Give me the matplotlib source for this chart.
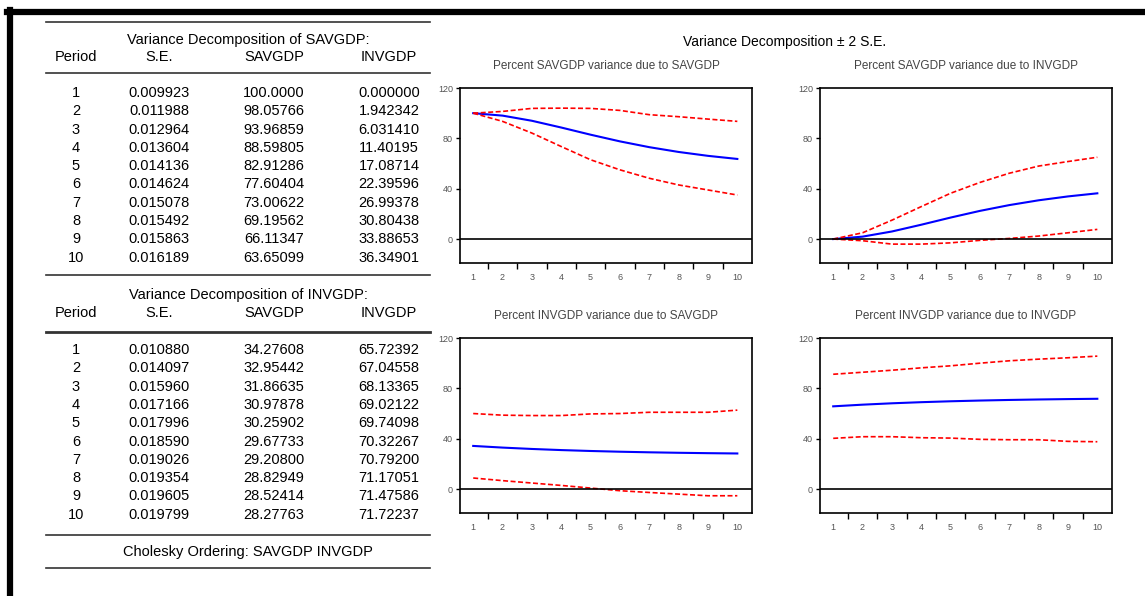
import matplotlib
matplotlib.use("Agg")
import matplotlib.pyplot as plt
from matplotlib.lines import Line2D
import numpy as np

plt.rcParams['font.family'] = ['Liberation Sans', 'DejaVu Sans']

W, H = 1145, 596

periods = list(range(1, 11))

# table values, as printed
se_sav = ["0.009923", "0.011988", "0.012964", "0.013604", "0.014136",
          "0.014624", "0.015078", "0.015492", "0.015863", "0.016189"]
sav_sav = ["100.0000", "98.05766", "93.96859", "88.59805", "82.91286",
           "77.60404", "73.00622", "69.19562", "66.11347", "63.65099"]
sav_inv = ["0.000000", "1.942342", "6.031410", "11.40195", "17.08714",
           "22.39596", "26.99378", "30.80438", "33.88653", "36.34901"]
se_inv = ["0.010880", "0.014097", "0.015960", "0.017166", "0.017996",
          "0.018590", "0.019026", "0.019354", "0.019605", "0.019799"]
inv_sav = ["34.27608", "32.95442", "31.86635", "30.97878", "30.25902",
           "29.67733", "29.20800", "28.82949", "28.52414", "28.27763"]
inv_inv = ["65.72392", "67.04558", "68.13365", "69.02122", "69.74098",
           "70.32267", "70.79200", "71.17051", "71.47586", "71.72237"]

# +/- 2 S.E. bands
up_ss = [100, 101.4, 103.8, 104, 103.8, 102.2, 98.8, 97.2, 95.3, 93.5]
lo_ss = [100, 93.5, 84.2, 73.5, 63, 55, 48.3, 43, 39, 35]
up_si = [0, 5, 15, 25.8, 36.4, 45, 52.3, 58, 61.6, 65]
lo_si = [0, -1.3, -4, -4, -3, -1, 0.5, 2.4, 5, 7.7]
up_is = [60, 58.7, 58.4, 58.4, 59.7, 60, 61, 61, 61, 62.7]
lo_is = [8.8, 6.7, 4.8, 2.9, 0.8, -1.3, -2.7, -4, -5.3, -5.3]
up_ii = [91.2, 92.8, 94.4, 96.3, 97.9, 100, 101.9, 103.2, 104.3, 105.6]
lo_ii = [40.3, 41.6, 41.6, 40.8, 40.5, 39.5, 39.2, 39.2, 37.9, 37.6]

fig = plt.figure(figsize=(W / 100, H / 100), dpi=100)


def fx(x):
    return x / W


def fy(y):
    return 1 - y / H


def hline(y, x0=46, x1=430, lw=1.2, color='#333333'):
    fig.add_artist(Line2D([fx(x0), fx(x1)], [fy(y), fy(y)], lw=lw, color=color))


# black frame pieces (top and left)
fig.add_artist(Line2D([fx(7), fx(W)], [fy(12), fy(12)], lw=4.5, color='black'))
fig.add_artist(Line2D([fx(10), fx(10)], [fy(10), fy(H)], lw=4.5, color='black'))

# ---- tables ----
col_x = [76, 159, 274, 389]
fs = 10.5


def draw_table(y_title, y_head, y_first, title, se, a, b):
    fig.text(fx(248), fy(y_title), title, ha='center', va='center', fontsize=fs)
    for x, h in zip(col_x, ["Period", "S.E.", "SAVGDP", "INVGDP"]):
        fig.text(fx(x), fy(y_head), h, ha='center', va='center', fontsize=fs)
    for i, p in enumerate(periods):
        y = y_first + i * 18.3
        for x, v in zip(col_x, [str(p), se[i], a[i], b[i]]):
            fig.text(fx(x), fy(y), v, ha='center', va='center', fontsize=fs)


hline(22)
draw_table(40, 57, 93, "Variance Decomposition of SAVGDP:", se_sav, sav_sav, sav_inv)
hline(73)
hline(275)
draw_table(295, 313, 350, "Variance Decomposition of INVGDP:", se_inv, inv_sav, inv_inv)
hline(332, lw=2)
hline(535)
fig.text(fx(248), fy(552), "Cholesky Ordering: SAVGDP INVGDP", ha='center', va='center', fontsize=fs)
hline(568)

# ---- graphs ----
fig.text(fx(785), fy(42), "Variance Decomposition \u00b1 2 S.E.", ha='center', va='center', fontsize=10)

panels = [
    ((460, 88), "Percent SAVGDP variance due to SAVGDP", sav_sav, up_ss, lo_ss),
    ((820, 88), "Percent SAVGDP variance due to INVGDP", sav_inv, up_si, lo_si),
    ((460, 338), "Percent INVGDP variance due to SAVGDP", inv_sav, up_is, lo_is),
    ((820, 338), "Percent INVGDP variance due to INVGDP", inv_inv, up_ii, lo_ii),
]
aw, ah = 292, 175

for (x0, y0), title, mid, up, lo in panels:
    ax = fig.add_axes([fx(x0), fy(y0 + ah), aw / W, ah / H])
    ax.plot(periods, [float(v) for v in mid], color='#0000ff', lw=1.5)
    ax.plot(periods, up, color='#ff0000', lw=1.2, ls=(0, (3, 1.5)))
    ax.plot(periods, lo, color='#ff0000', lw=1.2, ls=(0, (3, 1.5)))
    ax.axhline(0, color='black', lw=1.2)
    ax.set_xlim(0.55, 10.5)
    ax.set_ylim(-19, 120)
    ax.set_yticks([0, 40, 80, 120])
    ax.set_yticklabels(["0", "40", "80", "120"], fontsize=6.5, color='#555555')
    ax.set_xticks(np.arange(1.5, 10.5, 1))
    ax.set_xticklabels([])
    ax.set_xticks(periods, minor=True)
    ax.set_xticklabels([str(p) for p in periods], minor=True, fontsize=6.5, color='#555555')
    ax.tick_params(axis='x', which='minor', length=0, pad=7)
    ax.tick_params(axis='x', which='major', length=4, width=1, direction='out')
    ax.tick_params(axis='y', length=3, width=1, pad=2)
    for s in ax.spines.values():
        s.set_linewidth(1.2)
    ax.set_title(title, fontsize=8.5, color='#444444', pad=14)

fig.savefig("out.png", dpi=100)
